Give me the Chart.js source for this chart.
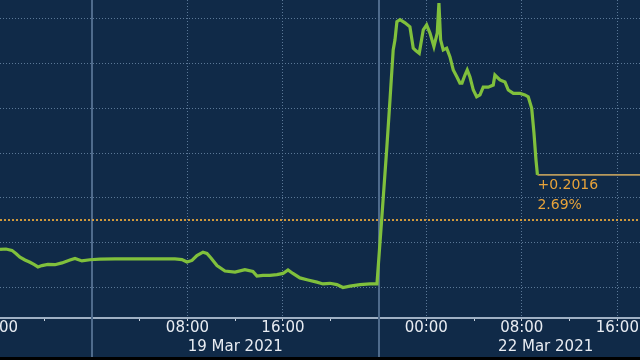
<!DOCTYPE html>
<html>
<head>
<meta charset="utf-8">
<script src="https://cdn.jsdelivr.net/npm/chart.js@4/dist/chart.umd.min.js"></script>
<style>
  html, body { margin: 0; padding: 0; background: #000; }
  #wrap { width: 640px; height: 357px; background: #102a48; }
  canvas { display: block; }
</style>
</head>
<body>
<div id="wrap"><canvas id="chart" width="640" height="357"></canvas></div>
<script>
// time axis is in trading hours from 00:00 19 Mar (weekend gap collapsed at 24)
const times = [-7.70, -7.20, -6.70, -6.37, -6.03, -5.61, -5.19, -4.86, -4.52, -4.19,
  -3.69, -3.10, -2.51, -1.84, -1.42, -0.84, -0.17, 0.67, 1.93, 3.18,
  4.44, 5.70, 6.95, 7.54, 7.96, 8.38, 8.79, 9.30, 9.63, 9.97,
  10.47, 11.14, 11.98, 12.81, 13.48, 13.82, 14.32, 14.91, 15.49, 16.00,
  16.42, 16.83, 17.42, 18.09, 18.84, 19.35, 19.93, 20.52, 21.02, 21.61,
  22.45, 23.28, 23.87, 24.26, 24.68, 24.96, 25.23, 25.38, 25.54, 25.80,
  26.22, 26.63, 26.91, 27.14, 27.41, 27.75, 28.03, 28.31, 28.64, 28.92,
  29.06, 29.20, 29.42, 29.71, 29.98, 30.26, 30.55, 30.82, 30.99, 31.24,
  31.43, 31.66, 31.94, 32.22, 32.50, 32.77, 33.19, 33.61, 33.75, 34.17,
  34.59, 34.87, 35.29, 35.85, 36.26, 36.54, 36.83, 37.02, 37.19, 37.31];

const prices = [7.370, 7.372, 7.366, 7.352, 7.336, 7.323, 7.313, 7.303, 7.292, 7.298,
  7.303, 7.302, 7.310, 7.323, 7.330, 7.319, 7.324, 7.327, 7.328, 7.328,
  7.328, 7.328, 7.328, 7.325, 7.314, 7.321, 7.343, 7.358, 7.352, 7.332,
  7.298, 7.274, 7.269, 7.280, 7.272, 7.251, 7.254, 7.254, 7.258, 7.263,
  7.279, 7.263, 7.243, 7.234, 7.224, 7.216, 7.219, 7.213, 7.200, 7.206,
  7.213, 7.216, 7.216, 7.500, 7.813, 8.037, 8.261, 8.306, 8.387, 8.396,
  8.382, 8.364, 8.269, 8.257, 8.246, 8.351, 8.373, 8.336, 8.276, 8.337,
  8.470, 8.306, 8.261, 8.269, 8.231, 8.172, 8.142, 8.113, 8.113, 8.149,
  8.172, 8.140, 8.082, 8.052, 8.060, 8.095, 8.095, 8.104, 8.149, 8.127,
  8.118, 8.082, 8.067, 8.067, 8.060, 8.052, 8.000, 7.890, 7.769, 7.7031];

const prevClose = 7.5015;

const xTicks = [-8, -4, 0, 4, 8, 12, 16, 20, 24, 28, 32, 36, 40, 44];
const xTickLabels = ["16:00", "", "", "", "08:00", "", "16:00", "", "", "00:00", "", "08:00", "", "16:00"];
const dateLabels = ["19 Mar 2021", "22 Mar 2021"];
const dateLabelAt = [12, 38];
const sessionBreaks = [0, 24];
const yTicks = [7.2, 7.4, 7.6, 7.8, 8.0, 8.2, 8.4];

const xMin = -7.7, xMax = 45.9;
const yMin = 7.064, yMax = 8.484;

const last = prices[prices.length - 1];
const lastTime = times[times.length - 1];
const change = Math.round((last - prevClose) * 10000) / 10000;
const changePct = change / prevClose * 100;

const FONT = "'DejaVu Sans', sans-serif";

// vertical session lines, date row and last price label
const extras = {
  id: "extras",
  beforeDatasetsDraw(chart) {
    const { ctx } = chart;
    const x = chart.scales.x;
    ctx.save();
    ctx.strokeStyle = "#4f6b8c";
    ctx.lineWidth = 2;
    sessionBreaks.forEach((v) => {
      const px = Math.round(x.getPixelForValue(v));
      ctx.beginPath();
      ctx.moveTo(px, 0);
      ctx.lineTo(px, chart.height);
      ctx.stroke();
    });
    ctx.restore();
  },
  afterDraw(chart) {
    const { ctx } = chart;
    const x = chart.scales.x;
    const y = chart.scales.y;
    ctx.save();
    ctx.fillStyle = "#e8ecf2";
    ctx.font = "15px " + FONT;
    ctx.textAlign = "center";
    ctx.textBaseline = "middle";
    dateLabels.forEach((t, i) => {
      ctx.fillText(t, x.getPixelForValue(dateLabelAt[i]), 347);
    });

    const lx = x.getPixelForValue(lastTime);
    const ly = y.getPixelForValue(last);
    ctx.fillStyle = "#e8a33a";
    ctx.font = "14px " + FONT;
    ctx.textAlign = "left";
    ctx.fillText("+" + change.toFixed(4), lx, ly + 10);
    ctx.fillText(changePct.toFixed(2) + "%", lx, ly + 30);
    ctx.restore();
  }
};

new Chart(document.getElementById("chart"), {
  type: "line",
  data: {
    datasets: [
      {
        label: "Price",
        data: times.map((t, i) => ({ x: t, y: prices[i] })),
        borderColor: "#80c03c",
        borderWidth: 3.2,
        pointRadius: 0,
        tension: 0,
        order: 0
      },
      {
        label: "Last",
        data: [{ x: lastTime, y: last }, { x: xMax, y: last }],
        borderColor: "#b89a5c",
        borderWidth: 1.8,
        pointRadius: 0,
        order: 1
      },
      {
        label: "Prev close",
        data: [{ x: xMin, y: prevClose }, { x: xMax, y: prevClose }],
        borderColor: "#e3a43c",
        borderWidth: 1.8,
        borderDash: [2, 2],
        pointRadius: 0,
        order: 2
      }
    ]
  },
  options: {
    responsive: false,
    animation: false,
    devicePixelRatio: 1,
    layout: { padding: 0 },
    plugins: {
      legend: { display: false },
      tooltip: { enabled: false }
    },
    scales: {
      x: {
        type: "linear",
        min: xMin,
        max: xMax,
        afterBuildTicks: (scale) => {
          scale.ticks = xTicks.map((v) => ({ value: v }));
        },
        afterFit: (scale) => {
          scale.height = 39;
          scale.paddingLeft = 0;
          scale.paddingRight = 0;
        },
        ticks: {
          autoSkip: false,
          maxRotation: 0,
          padding: -2,
          color: "#e8ecf2",
          font: { family: FONT, size: 15 },
          callback: (v) => {
            const i = xTicks.indexOf(v);
            return i >= 0 ? xTickLabels[i] : "";
          }
        },
        grid: {
          color: (c) => {
            const i = xTicks.indexOf(c.tick ? c.tick.value : NaN);
            return i >= 0 && xTickLabels[i] ? "#5b7897" : "rgba(0,0,0,0)";
          },
          lineWidth: 1,
          drawTicks: true,
          tickLength: 3,
          tickColor: "#c9d3df",
          tickWidth: 1,
          tickBorderDash: []
        },
        border: { display: true, color: "#9fb0c4", width: 2, dash: [1, 2] }
      },
      y: {
        min: yMin,
        max: yMax,
        afterBuildTicks: (scale) => {
          scale.ticks = yTicks.map((v) => ({ value: v }));
        },
        afterFit: (scale) => {
          scale.width = 0;
        },
        ticks: { display: false },
        grid: { color: "#5b7897", lineWidth: 1, drawTicks: false },
        border: { display: false, dash: [1, 2] }
      }
    }
  },
  plugins: [extras]
});
</script>
</body>
</html>
